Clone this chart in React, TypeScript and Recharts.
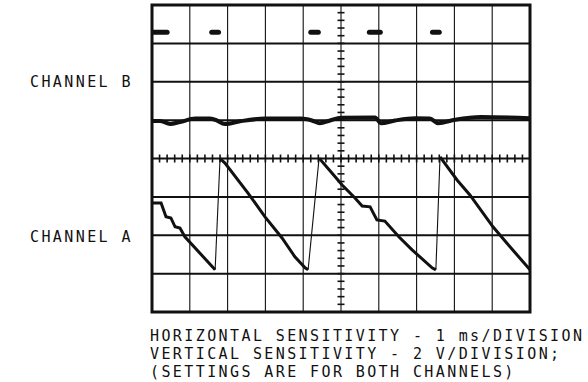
import { ComposedChart, Line, XAxis, YAxis, ReferenceArea, ReferenceLine, Scatter } from 'recharts';

type Pt = { t: number; v: number };

// graticule: 10 horizontal divisions (1 ms/div), 8 vertical divisions (2 V/div)
const xDivisions = [1, 2, 3, 4, 5, 6, 7, 8, 9];
const yDivisions = [-3, -2, -1, 0, 1, 2, 3];

// channel B: baseline with small droop after every pulse
const chanBTrace: Pt[] = [
  { t: 0, v: 0.98 }, { t: 0.21, v: 0.98 }, { t: 0.48, v: 0.9 }, { t: 0.74, v: 0.95 },
  { t: 1.14, v: 1.04 }, { t: 1.53, v: 1.04 }, { t: 1.67, v: 1.01 }, { t: 1.93, v: 0.9 },
  { t: 2.33, v: 0.97 }, { t: 2.99, v: 1.04 }, { t: 3.94, v: 1.04 }, { t: 4.23, v: 0.99 },
  { t: 4.44, v: 0.92 }, { t: 4.71, v: 0.99 }, { t: 5.0, v: 1.06 }, { t: 5.9, v: 1.07 },
  { t: 6.06, v: 0.92 }, { t: 6.43, v: 0.99 }, { t: 6.96, v: 1.05 }, { t: 7.35, v: 1.04 },
  { t: 7.57, v: 0.92 }, { t: 8.02, v: 1.01 }, { t: 8.7, v: 1.08 }, { t: 10, v: 1.05 },
];

// channel B pulse tops (edges too fast to show)
const chanBPulses: Pt[][] = [
  [{ t: 0, v: 3.29 }, { t: 0.4, v: 3.29 }],
  [{ t: 1.58, v: 3.29 }, { t: 1.76, v: 3.29 }],
  [{ t: 4.2, v: 3.29 }, { t: 4.4, v: 3.29 }],
  [{ t: 5.75, v: 3.29 }, { t: 6.04, v: 3.29 }],
  [{ t: 7.42, v: 3.29 }, { t: 7.6, v: 3.29 }],
];

// channel A: stepped ramps down
const chanADescents: Pt[][] = [
  [
    { t: 0, v: -1.16 }, { t: 0.24, v: -1.16 }, { t: 0.37, v: -1.52 }, { t: 0.5, v: -1.55 },
    { t: 0.61, v: -1.78 }, { t: 0.74, v: -1.81 }, { t: 0.87, v: -2.04 }, { t: 1.67, v: -2.9 },
  ],
  [
    { t: 1.8, v: 0 }, { t: 1.93, v: -0.12 }, { t: 2.54, v: -0.9 }, { t: 2.99, v: -1.52 },
    { t: 3.44, v: -2.07 }, { t: 3.78, v: -2.56 }, { t: 4.05, v: -2.85 }, { t: 4.13, v: -2.9 },
  ],
  [
    { t: 4.42, v: 0.01 }, { t: 4.76, v: -0.38 }, { t: 5.03, v: -0.69 }, { t: 5.37, v: -1.03 },
    { t: 5.56, v: -1.24 }, { t: 5.77, v: -1.26 }, { t: 5.95, v: -1.6 }, { t: 6.16, v: -1.63 },
    { t: 6.53, v: -2.04 }, { t: 6.88, v: -2.38 }, { t: 7.41, v: -2.85 }, { t: 7.51, v: -2.9 },
  ],
  [
    { t: 7.62, v: 0.04 }, { t: 8.07, v: -0.56 }, { t: 8.41, v: -0.95 }, { t: 9.02, v: -1.78 },
    { t: 9.47, v: -2.3 }, { t: 10, v: -2.9 },
  ],
];

// channel A: fast flyback edges (faint)
const chanARises: Pt[][] = [
  [{ t: 1.67, v: -2.9 }, { t: 1.8, v: 0 }],
  [{ t: 4.13, v: -2.9 }, { t: 4.42, v: 0.01 }],
  [{ t: 7.51, v: -2.9 }, { t: 7.62, v: 0.04 }],
];

const noteLines = [
  'HORIZONTAL SENSITIVITY - 1 ms/DIVISION',
  'VERTICAL SENSITIVITY - 2 V/DIVISION;',
  '(SETTINGS ARE FOR BOTH CHANNELS)',
];

// minor marks on the centre lines, 5 per division
const vMinor: Pt[] = [];
for (let i = -20; i <= 20; i++) vMinor.push({ t: 5, v: i / 5 });
const hMinor: Pt[] = [];
for (let i = 0; i <= 50; i++) hMinor.push({ t: i / 5, v: 0 });

const ink = '#111';

const HTick = (p: any) => (
  <line x1={p.cx - 3.5} x2={p.cx + 3.5} y1={p.cy} y2={p.cy} stroke={ink} strokeWidth={1.6} />
);
const VTick = (p: any) => (
  <line x1={p.cx} x2={p.cx} y1={p.cy - 4} y2={p.cy + 4} stroke={ink} strokeWidth={1.6} />
);

const textStyle: React.CSSProperties = {
  position: 'absolute',
  fontFamily: '"DejaVu Sans Mono", monospace',
  fontSize: 15,
  letterSpacing: 2.4,
  whiteSpace: 'pre',
  color: ink,
  lineHeight: '18px',
};

export default function App() {
  return (
    <div style={{ position: 'absolute', left: 0, top: 0, width: 588, height: 382, background: '#fff' }}>
      <ComposedChart width={588} height={382} margin={{ top: 5, right: 58, bottom: 70, left: 152 }}>
        <XAxis type="number" dataKey="t" domain={[0, 10]} hide allowDataOverflow />
        <YAxis type="number" dataKey="v" domain={[-4, 4]} hide allowDataOverflow />
        {xDivisions.map((x) => (
          <ReferenceLine key={`vx-${x}`} x={x} stroke={ink} strokeWidth={1.1} />
        ))}
        {yDivisions.map((y) => (
          <ReferenceLine key={`hy-${y}`} y={y} stroke={ink} strokeWidth={2} />
        ))}
        <ReferenceArea x1={0} x2={10} y1={-4} y2={4} fill="none" stroke={ink} strokeWidth={3} />
        <Scatter data={vMinor} dataKey="v" shape={HTick} isAnimationActive={false} />
        <Scatter data={hMinor} dataKey="v" shape={VTick} isAnimationActive={false} />

        <Line data={chanBTrace} dataKey="v" stroke={ink} strokeWidth={4} dot={false} type="monotone" isAnimationActive={false} />
        {chanBPulses.map((seg, i) => (
          <Line key={`bp-${i}`} data={seg} dataKey="v" stroke={ink} strokeWidth={5} strokeLinecap="round" dot={false} isAnimationActive={false} />
        ))}
        {chanARises.map((seg, i) => (
          <Line key={`ar-${i}`} data={seg} dataKey="v" stroke={ink} strokeWidth={1.1} dot={false} isAnimationActive={false} />
        ))}
        {chanADescents.map((seg, i) => (
          <Line key={`ad-${i}`} data={seg} dataKey="v" stroke={ink} strokeWidth={3} dot={false} isAnimationActive={false} />
        ))}
      </ComposedChart>

      <div style={{ ...textStyle, left: 30, top: 73 }}>CHANNEL B</div>
      <div style={{ ...textStyle, left: 30, top: 228 }}>CHANNEL A</div>
      <div style={{ ...textStyle, left: 150, top: 327 }}>
        {noteLines.join('\n')}
      </div>
    </div>
  );
}
